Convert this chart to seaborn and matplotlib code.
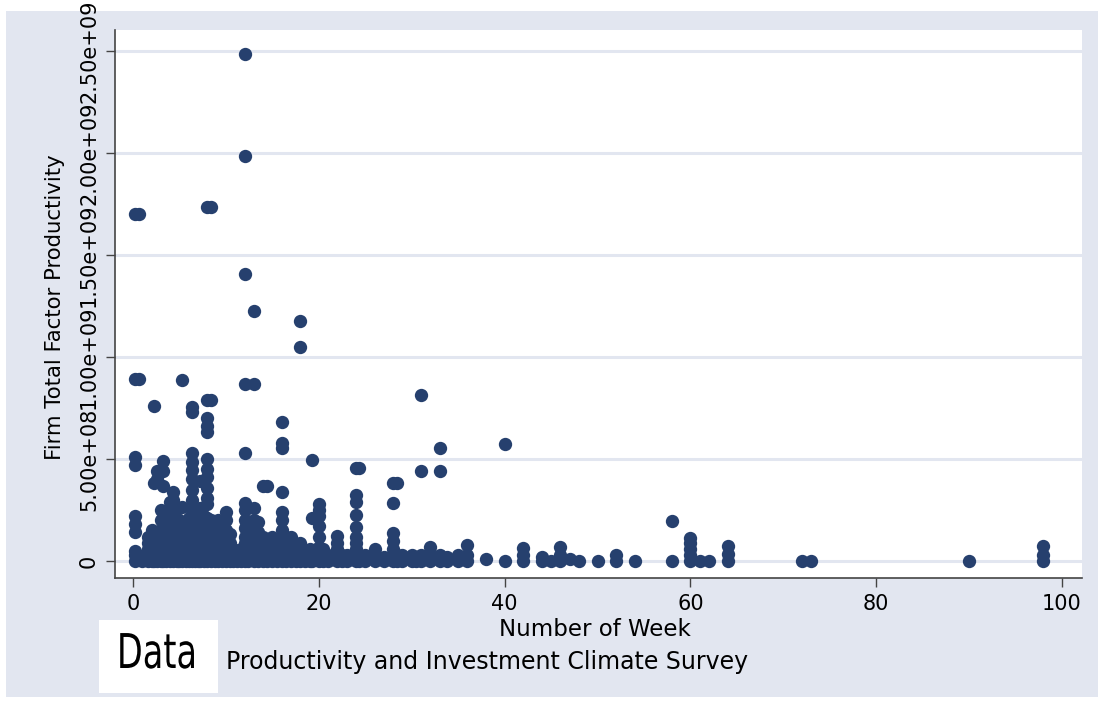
import matplotlib
matplotlib.use("Agg")
import matplotlib.pyplot as plt
import matplotlib.ticker as mticker
from matplotlib.patches import Rectangle
from matplotlib.patheffects import AbstractPathEffect
from matplotlib.transforms import Affine2D
import seaborn as sns
import pandas as pd

# Setup
sns.set_theme(style="white")
plt.rcParams['font.family'] = ['DejaVu Sans']

# Data: weeks and the TFP values stacked at each week (units of 1e8)
weeks = [0.2, 0.6, 1.0, 1.6, 2.0, 2.3, 2.6, 3.0, 3.2, 3.6,
         4.0, 4.3, 4.7, 5.0, 5.3, 5.7, 6.0, 6.3, 6.7, 7.0,
         7.2, 7.6, 8.0, 8.4, 8.8, 9.2, 9.6, 10.0, 10.4, 10.8,
         11.2, 11.6, 12.0, 12.4, 13.0, 13.4, 14.0, 14.4, 15.0, 15.5,
         16.0, 16.5, 17.0, 17.5, 18.0, 18.5, 19.0, 19.3, 20.0, 20.5,
         21.0, 22.0, 22.5, 23.0, 24.0, 24.3, 25.0, 26.0, 27.0, 28.0,
         28.4, 29.0, 30.0, 30.5, 31.0, 32.0, 33.0, 33.8, 35.0, 36.0,
         38.0, 40.0, 42.0, 44.0, 45.0, 46.0, 47.0, 48.0, 50.0, 52.0,
         54.0, 58.0, 60.0, 61.0, 62.0, 64.0, 72.0, 73.0, 90.0, 98.0]

tfp_e8 = [
    [0, 0.3, 0.5, 1.4, 1.8, 2.2, 4.7, 5.1, 8.9, 17.0],
    [8.9, 17.0],
    [0, 0.2],
    [0, 0.3, 0.6, 0.9, 1.2],
    [0, 0.3, 0.6, 0.9, 1.2, 1.5],
    [0, 0.3, 0.6, 0.9, 1.2, 1.4, 3.8, 7.6],
    [0, 0.3, 0.6, 0.9, 1.3, 4.0, 4.4],
    [0, 0.3, 0.6, 0.9, 1.2, 1.5, 2.0, 2.5],
    [0, 0.4, 0.8, 1.2, 1.6, 2.0, 3.7, 4.4, 4.9],
    [0, 0.3, 0.6, 0.9, 1.2, 1.6, 2.2],
    [0, 0.3, 0.6, 0.9, 1.2, 1.5, 1.8, 2.6, 2.9],
    [0, 0.4, 0.8, 1.2, 1.6, 2.0, 2.4, 3.0, 3.4],
    [0, 0.3, 0.6, 1.0, 1.4, 1.9],
    [0, 0.3, 0.6, 0.9, 1.2, 1.5, 2.0, 2.6],
    [0, 0.4, 0.8, 1.2, 1.6, 2.65, 8.85],
    [0, 0.3, 0.6, 1.0, 1.4],
    [0, 0.3, 0.6, 0.9, 1.2, 1.5, 1.8, 2.1],
    [0, 0.4, 0.8, 1.2, 1.6, 2.0, 2.5, 3.0, 3.5, 4.0, 4.45, 4.85, 5.3, 7.3, 7.55],
    [0, 0.3, 0.7, 1.1, 1.5],
    [0, 0.3, 0.6, 0.9, 1.2, 1.6, 2.0],
    [0, 0.4, 0.8, 1.2, 1.6, 2.6, 3.9],
    [0, 0.3, 0.6, 1.0, 1.4, 1.8, 2.2],
    [0, 0.3, 0.6, 0.9, 1.2, 1.5, 1.8, 2.1, 2.8, 3.1, 3.6, 4.1, 4.5, 5.0, 6.3, 6.6, 7.0, 7.9, 17.35],
    [0, 0.4, 0.8, 1.2, 1.6, 2.0, 7.9, 17.35],
    [0, 0.3, 0.6, 1.0, 1.4, 1.8],
    [0, 0.3, 0.6, 0.9, 1.2, 1.6, 2.0],
    [0, 0.3, 0.6, 1.0, 1.4, 1.7],
    [0, 0.3, 0.6, 0.9, 1.2, 1.5, 2.0, 2.4],
    [0, 0.3, 0.6, 0.9, 1.3],
    [0, 0.3, 0.6],
    [0, 0.3],
    [0, 0.3, 0.6],
    [0, 0.3, 0.6, 0.9, 1.2, 1.6, 2.0, 2.5, 2.85, 5.3, 8.7, 14.05, 19.85, 24.85],
    [0, 0.3, 0.6, 0.9, 1.3, 1.7],
    [0, 0.3, 0.6, 0.9, 1.2, 2.0, 2.6, 8.7, 12.25],
    [0, 0.3, 0.6, 1.0, 1.4, 1.9],
    [0, 0.3, 0.6, 0.9, 1.2, 3.7],
    [0, 0.3, 0.6, 3.7],
    [0, 0.3, 0.6, 0.9, 1.2],
    [0, 0.3, 0.6, 1.0],
    [0, 0.3, 0.6, 0.9, 1.2, 1.5, 2.0, 2.4, 3.4, 5.55, 5.8, 6.8],
    [0, 0.3, 0.6, 0.9, 1.2],
    [0, 0.3, 0.6, 0.9, 1.2],
    [0, 0.3, 0.6],
    [0, 0.3, 0.6, 0.9, 10.5, 11.75],
    [0, 0.3],
    [0, 0.3, 0.6],
    [0, 0.3, 2.1, 4.95],
    [0, 0.3, 0.7, 1.2, 1.7, 2.2, 2.5, 2.8],
    [0, 0.3, 0.6],
    [0, 0.3],
    [0, 0.3, 0.6, 0.9, 1.25],
    [0, 0.3],
    [0, 0.3],
    [0, 0.3, 0.6, 0.9, 1.2, 1.65, 2.25, 2.9, 3.25, 4.55],
    [0, 0.3, 4.55],
    [0, 0.3],
    [0, 0.3, 0.6],
    [0, 0.2],
    [0, 0.3, 0.6, 1.0, 1.35, 2.85, 3.8],
    [0, 0.3, 3.8],
    [0, 0.3],
    [0, 0.3],
    [0, 0.2],
    [0, 0.3, 4.4, 8.15],
    [0, 0.3, 0.7],
    [0, 0.3, 4.4, 5.55],
    [0, 0.2],
    [0, 0.3],
    [0, 0.3, 0.8],
    [0.1],
    [0, 5.75],
    [0, 0.3, 0.65],
    [0, 0.2],
    [0],
    [0, 0.3, 0.7],
    [0.1],
    [0],
    [0],
    [0, 0.3],
    [0],
    [0, 1.95],
    [0, 0.3, 0.6, 0.9, 1.15],
    [0],
    [0],
    [0, 0.35, 0.75],
    [0],
    [0],
    [0],
    [0, 0.3, 0.75],
]

y_ticks = [0, 5e8, 1e9, 1.5e9, 2e9, 2.5e9]
x_ticks = [0, 20, 40, 60, 80, 100]

NAVY = '#26406e'
BG = '#e2e6f0'


class HStretch(AbstractPathEffect):
    """Squeeze/stretch a text path horizontally about a fixed display x."""
    def __init__(self, sx, cx):
        super().__init__()
        self.sx = sx
        self.cx = cx

    def draw_path(self, renderer, gc, tpath, affine, rgbFace=None):
        t = affine + Affine2D().translate(-self.cx, 0).scale(self.sx, 1).translate(self.cx, 0)
        renderer.draw_path(gc, tpath, t, rgbFace)


rows = [(w, v * 1e8) for w, col in zip(weeks, tfp_e8) for v in col]
df = pd.DataFrame(rows, columns=['week', 'tfp'])

fig = plt.figure(figsize=(11.04, 7.01), dpi=100)
fig.patch.set_facecolor('white')
W, H = 1104, 701

def fx(px):
    return px / W

def fy(py):
    return 1 - py / H

# graph region background and the white source box
fig.patches.append(Rectangle((fx(6), fy(697)), fx(1092), 686 / H,
                             transform=fig.transFigure, facecolor=BG,
                             edgecolor='none', zorder=-2))
fig.patches.append(Rectangle((fx(99), fy(693)), fx(119), 73 / H,
                             transform=fig.transFigure, facecolor='white',
                             edgecolor='none', zorder=-1))

ax = fig.add_axes([fx(115), fy(578), fx(1082 - 115), (578 - 30) / H])
ax.set_facecolor('white')

sns.scatterplot(data=df, x='week', y='tfp', ax=ax, color=NAVY,
                s=92, linewidth=0, zorder=3)

ax.set_xlim(-1.94, 102.15)
ax.set_ylim(-0.0833e9, 2.603e9)

ax.set_yticks(y_ticks)
ax.set_xticks(x_ticks)
ax.yaxis.set_major_formatter(mticker.FuncFormatter(
    lambda v, p: '0' if v == 0 else f'{v:.2e}'))

ax.grid(axis='y', color=BG, linewidth=2.2, zorder=0)
ax.grid(axis='x', visible=False)
ax.set_axisbelow(True)

for side in ['top', 'right']:
    ax.spines[side].set_visible(False)
for side in ['left', 'bottom']:
    ax.spines[side].set_color('#444444')
    ax.spines[side].set_linewidth(1.2)

ax.tick_params(axis='both', which='major', direction='out', length=6.5,
               width=1.0, color='#444444', labelcolor='black',
               left=True, bottom=True, labelsize=15)
ax.tick_params(axis='y', pad=5)
ax.tick_params(axis='x', pad=5)
for lbl in ax.get_yticklabels():
    lbl.set_rotation(90)
    lbl.set_va('center')

ax.set_xlabel('Number of Week', fontsize=16.5, color='black')
ax.set_ylabel('Firm Total Factor Productivity', fontsize=15.3, color='black')
ax.xaxis.set_label_coords((595 - 115) / 967, (578 - 629) / 548)
ax.xaxis.label.set_va('center')
ax.yaxis.set_label_coords((55 - 115) / 967, 0.495)
ax.yaxis.label.set_va('center')

fig.text(fx(157), fy(668), 'Data', fontsize=34.5, ha='center', va='baseline',
         color='black', path_effects=[HStretch(0.70, 157)])
fig.text(fx(226), fy(662), 'Productivity and Investment Climate Survey',
         fontsize=17, ha='left', va='center', color='black')

fig.savefig('out.png', dpi=100, facecolor=fig.get_facecolor())
